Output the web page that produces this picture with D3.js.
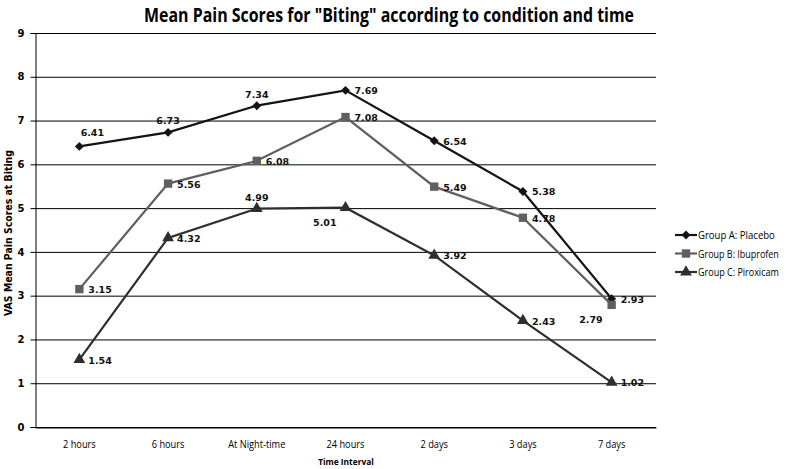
<!DOCTYPE html>
<html><head><meta charset="utf-8">
<script src="https://cdn.jsdelivr.net/npm/d3@7"></script>
<style>body{margin:0;background:#fff}svg{display:block}</style>
</head><body>
<script>
const categories = ["2 hours","6 hours","At Night-time","24 hours","2 days","3 days","7 days"];
const seriesNames = ["Group A: Placebo","Group B: Ibuprofen","Group C: Piroxicam"];
const placebo   = [6.41, 6.73, 7.34, 7.69, 6.54, 5.38, 2.93];
const ibuprofen = [3.15, 5.56, 6.08, 7.08, 5.49, 4.78, 2.79];
const piroxicam = [1.54, 4.32, 4.99, 5.01, 3.92, 2.43, 1.02];
const yTicks = [0,1,2,3,4,5,6,7,8,9];
const title = 'Mean Pain Scores for "Biting" according to condition and time';
const yTitle = "VAS Mean Pain  Scores at Biting";
const xTitle = "Time Interval";

// styling
const colors = ["#141414","#5f5f5f","#2e2e2e"];
const wideDiamond = {draw(ctx,size){const r=Math.sqrt(size/2);ctx.moveTo(0,-r);ctx.lineTo(r,0);ctx.lineTo(0,r);ctx.lineTo(-r,0);ctx.closePath();}};
const symbols = [wideDiamond, d3.symbolSquare, d3.symbolTriangle];
const symSizes = [40, 70, 60];
const labelPlace = [
  ["aboveR","above","above","right","right","right","right"],
  ["right","right","right","right","right","right","belowL"],
  ["right","right","above","belowL","right","right","right"]
];
const legendTextWidths = [77, 81, 81];
const narrowFont = "Open Sans, sans-serif";
function condense(sel, f){ sel.each(function(){ const w=this.getComputedTextLength(); d3.select(this).attr("textLength",w*f).attr("lengthAdjust","spacingAndGlyphs"); }); }

const W=786,H=469;
const m={l:35,r:130,t:33,b:42};
const svg=d3.select("body").append("svg").attr("width",W).attr("height",H);
const x=d3.scaleBand().domain(categories).range([m.l,W-m.r]);
const y=d3.scaleLinear().domain([0,9]).range([H-m.b,m.t]);

// gridlines
svg.append("g").selectAll("line").data(yTicks).join("line")
  .attr("x1",m.l).attr("x2",W-m.r).attr("y1",d=>y(d)+0.5).attr("y2",d=>y(d)+0.5)
  .attr("stroke","#000").attr("stroke-width",1);

// y axis
const ya=svg.append("g").attr("transform",`translate(${m.l+0.5},0)`)
  .call(d3.axisLeft(y).tickValues(yTicks).tickSize(5).tickPadding(6).tickFormat(d3.format("d")));
ya.select(".domain").attr("stroke","#000");
ya.selectAll("text").attr("font-family","DejaVu Sans, Verdana").attr("font-weight","bold").attr("font-size",10).attr("fill","#000");

// x axis
const xa=svg.append("g").attr("transform",`translate(0,${H-m.b+0.5})`)
  .call(d3.axisBottom(x).tickSize(0).tickPadding(13));
xa.select(".domain").attr("stroke","#000");
xa.selectAll("text").attr("font-family",narrowFont).attr("font-size",10.5).attr("fill","#000").call(condense,0.88);

// title
svg.append("text").attr("x",389).attr("y",22).attr("text-anchor","middle")
  .attr("font-family",narrowFont).attr("font-weight","bold").attr("font-size",19)
  .attr("textLength",490).attr("lengthAdjust","spacingAndGlyphs").text(title);

svg.append("text").attr("transform",`translate(12,233) rotate(-90)`).attr("text-anchor","middle")
  .attr("font-family","DejaVu Sans, Verdana").attr("font-weight","bold").attr("font-size",10)
  .attr("textLength",166).attr("lengthAdjust","spacingAndGlyphs").text(yTitle);

svg.append("text").attr("x",346).attr("y",465).attr("text-anchor","middle")
  .attr("font-family",narrowFont).attr("font-weight","bold").attr("font-size",9.5).text(xTitle).call(condense,0.88);

const data=[placebo,ibuprofen,piroxicam];
const cx=c=>x(c)+x.bandwidth()/2;
const line=d3.line().x((d,i)=>cx(categories[i])).y(d=>y(d));
data.forEach((s,k)=>{
  svg.append("path").datum(s).attr("d",line).attr("fill","none").attr("stroke",colors[k]).attr("stroke-width",2.2);
  svg.append("g").selectAll("path").data(s).join("path")
    .attr("transform",(d,i)=>`translate(${cx(categories[i])},${y(d)})`)
    .attr("d",d3.symbol().type(symbols[k]).size(symSizes[k])).attr("fill",colors[k]);
  svg.append("g").selectAll("text").data(s).join("text")
    .attr("font-family","DejaVu Sans, Verdana").attr("font-size",9.5).attr("font-weight","bold").attr("fill","#111")
    .each(function(d,i){
      const px=cx(categories[i]), py=y(d), p=labelPlace[k][i];
      const t=d3.select(this).text(d.toFixed(2));
      if(p==="right"){t.attr("x",px+9).attr("y",py+4).attr("text-anchor","start");}
      else if(p==="above"){t.attr("x",px).attr("y",py-8).attr("text-anchor","middle");}
      else if(p==="aboveR"){t.attr("x",px+13).attr("y",py-10).attr("text-anchor","middle");}
      else if(p==="belowL"){t.attr("x",px-9).attr("y",py+18).attr("text-anchor","end");}
    });
});

// legend
const lg=svg.append("g");
seriesNames.forEach((n,k)=>{
  const ly=235+k*18.5;
  lg.append("line").attr("x1",675).attr("x2",697).attr("y1",ly).attr("y2",ly).attr("stroke",colors[k]).attr("stroke-width",2.2);
  lg.append("path").attr("transform",`translate(686,${ly})`).attr("d",d3.symbol().type(symbols[k]).size(symSizes[k])).attr("fill",colors[k]);
  const t=lg.append("text").attr("x",0).attr("y",0).attr("font-family",narrowFont).attr("font-size",10.5).text(n);
  const sx=legendTextWidths[k]/t.node().getComputedTextLength();
  t.attr("transform",`translate(698,${ly+4}) scale(${sx},1)`);
});
</script>
</body></html>
